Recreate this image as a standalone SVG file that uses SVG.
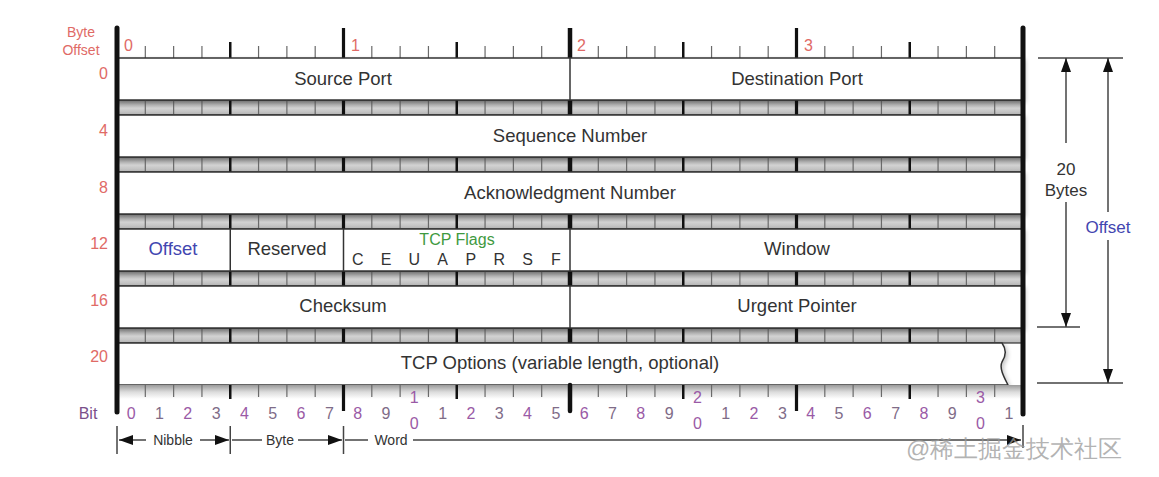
<svg xmlns="http://www.w3.org/2000/svg" width="1159" height="477" viewBox="0 0 1159 477">
<style>
text{font-family:"Liberation Sans",Arial,sans-serif}
.fld{font-size:18.5px;fill:#333;text-anchor:middle}
.off{font-size:16px;fill:#e06a66;text-anchor:end}
.boff{font-size:16px;fill:#e06a66}
.bit{font-size:16px;text-anchor:middle}
.ev{fill:#9a5aa6}
.od{fill:#7f6c88}
.row{fill:#fff;stroke:#333;stroke-width:1.5}
.div{stroke:#333;stroke-width:1.5}
.thin{stroke:#6a6a6a;stroke-width:1.2;fill:none}
.nib{stroke:#111;stroke-width:2.5}
.byt{stroke:#111;stroke-width:3.2}
.mid{stroke:#111;stroke-width:4.5}
.bar{stroke:#111;stroke-width:5;stroke-linecap:round}
.dim{stroke:#444;stroke-width:1.5;fill:none}
.lbl{font-size:14px;fill:#333;text-anchor:middle}
</style>
<defs>
<linearGradient id="sg" x1="0" y1="0" x2="0" y2="1">
<stop offset="0" stop-color="#8a8a8a"/>
<stop offset="0.55" stop-color="#d2d2d2"/>
<stop offset="1" stop-color="#b8b8b8"/>
</linearGradient>
<linearGradient id="bg" x1="0" y1="0" x2="0" y2="1">
<stop offset="0" stop-color="#9a9a9a"/>
<stop offset="0.5" stop-color="#dcdcdc"/>
<stop offset="1" stop-color="#ffffff"/>
</linearGradient>
<filter id="sh" x="-5%" y="-20%" width="110%" height="150%">
<feDropShadow dx="2" dy="2" stdDeviation="2" flood-color="#000" flood-opacity="0.22"/>
</filter>
<marker id="ah" viewBox="0 0 14 10" refX="14" refY="5" markerWidth="14" markerHeight="10" markerUnits="userSpaceOnUse" orient="auto-start-reverse">
<path d="M0,0 L14,5 L0,10 Z" fill="#111"/>
</marker>
<g id="strip">
<rect x="117" y="0" width="906" height="15" fill="url(#sg)" stroke="#333" stroke-width="1.2"/>
<path class="thin" d="M145.31,0v15M173.63,0v15M201.94,0v15M258.56,0v15M286.88,0v15M315.19,0v15M371.81,0v15M400.13,0v15M428.44,0v15M485.06,0v15M513.38,0v15M541.69,0v15M598.31,0v15M626.63,0v15M654.94,0v15M711.56,0v15M739.88,0v15M768.19,0v15M824.81,0v15M853.13,0v15M881.44,0v15M938.06,0v15M966.38,0v15M994.69,0v15"/>
<path class="nib" d="M230.25,0v15M456.75,0v15M683.25,0v15M909.75,0v15"/>
<path class="byt" d="M343.5,0v15M796.5,0v15"/>
<path class="mid" d="M570,0v15"/>
</g>
</defs>
<rect width="1159" height="477" fill="#fff"/>

<g id="byte-offset-header">
<text x="81" y="37" font-size="14" fill="#e06a66" text-anchor="middle">Byte</text>
<text x="81" y="55" font-size="14" fill="#e06a66" text-anchor="middle">Offset</text>
<text class="boff" x="124" y="51">0</text>
<text class="boff" x="351" y="51">1</text>
<text class="boff" x="577" y="51">2</text>
<text class="boff" x="804" y="51">3</text>
<path class="thin" d="M145.31,46V58M173.63,46V58M201.94,46V58M258.56,46V58M286.88,46V58M315.19,46V58M371.81,46V58M400.13,46V58M428.44,46V58M485.06,46V58M513.38,46V58M541.69,46V58M598.31,46V58M626.63,46V58M654.94,46V58M711.56,46V58M739.88,46V58M768.19,46V58M824.81,46V58M853.13,46V58M881.44,46V58M938.06,46V58M966.38,46V58M994.69,46V58"/>
<path class="nib" d="M230.25,42V58M456.75,42V58M683.25,42V58M909.75,42V58"/>
<path class="byt" d="M343.5,28V58M796.5,28V58"/>
<path class="mid" d="M570,28V58"/>
</g>

<g id="row-offsets">
<text class="off" x="108" y="79">0</text>
<text class="off" x="108" y="136">4</text>
<text class="off" x="108" y="193">8</text>
<text class="off" x="108" y="249">12</text>
<text class="off" x="108" y="306">16</text>
<text class="off" x="108" y="362">20</text>
</g>

<g id="strips">
<use href="#strip" y="100"/>
<use href="#strip" y="157"/>
<use href="#strip" y="214"/>
<use href="#strip" y="271"/>
<use href="#strip" y="328"/>
</g>

<g id="row0">
<rect class="row" x="117" y="58" width="906" height="42" filter="url(#sh)"/>
<line class="div" x1="570" y1="58" x2="570" y2="100"/>
<text class="fld" x="343" y="85">Source Port</text>
<text class="fld" x="797" y="85">Destination Port</text>
</g>
<g id="row1">
<rect class="row" x="117" y="115" width="906" height="42" filter="url(#sh)"/>
<text class="fld" x="570" y="142">Sequence Number</text>
</g>
<g id="row2">
<rect class="row" x="117" y="172" width="906" height="42" filter="url(#sh)"/>
<text class="fld" x="570" y="199">Acknowledgment Number</text>
</g>
<g id="row3">
<rect class="row" x="117" y="229" width="906" height="42" filter="url(#sh)"/>
<line class="div" x1="230.25" y1="229" x2="230.25" y2="271"/>
<line class="div" x1="343.5" y1="229" x2="343.5" y2="271"/>
<line class="div" x1="570" y1="229" x2="570" y2="271"/>
<text class="fld" x="173" y="255" style="fill:#4246b0">Offset</text>
<text class="fld" x="287" y="255">Reserved</text>
<text x="457" y="245" font-size="16" fill="#3f9a3f" text-anchor="middle">TCP Flags</text>
<g font-size="16" fill="#333" text-anchor="middle">
<text x="357.66" y="265">C</text>
<text x="385.97" y="265">E</text>
<text x="414.28" y="265">U</text>
<text x="442.59" y="265">A</text>
<text x="470.91" y="265">P</text>
<text x="499.22" y="265">R</text>
<text x="527.53" y="265">S</text>
<text x="555.84" y="265">F</text>
</g>
<text class="fld" x="797" y="255">Window</text>
</g>
<g id="row4">
<rect class="row" x="117" y="286" width="906" height="42" filter="url(#sh)"/>
<line class="div" x1="570" y1="286" x2="570" y2="328"/>
<text class="fld" x="343" y="312">Checksum</text>
<text class="fld" x="797" y="312">Urgent Pointer</text>
</g>
<g id="row5">
<path class="row" d="M117,343 L1002,343 C1007,350 1006,356 1002,362 C999,368 1004,377 1008,385 L117,385 Z" filter="url(#sh)"/>
<text class="fld" x="560" y="369">TCP Options (variable length, optional)</text>
</g>

<g id="bottom-ruler">
<rect x="117" y="385" width="906" height="14" fill="url(#bg)"/>
<path class="thin" d="M145.31,385v12M173.63,385v12M201.94,385v12M258.56,385v12M286.88,385v12M315.19,385v12M371.81,385v12M400.13,385v12M428.44,385v12M485.06,385v12M513.38,385v12M541.69,385v12M598.31,385v12M626.63,385v12M654.94,385v12M711.56,385v12M739.88,385v12M768.19,385v12M824.81,385v12M853.13,385v12M881.44,385v12M938.06,385v12M966.38,385v12M994.69,385v12"/>
<path class="nib" d="M230.25,385v14M456.75,385v14M683.25,385v14M909.75,385v14"/>
<path class="byt" d="M343.5,385v26M796.5,385v26"/>
<path class="mid" stroke-linecap="round" d="M570,385v26"/>
</g>

<g id="frame">
<line class="bar" x1="117" y1="28" x2="117" y2="412"/>
<line class="bar" x1="1023" y1="28" x2="1023" y2="414"/>
</g>

<g id="bit-labels">
<text x="88" y="419" font-size="16" fill="#7a4f8a" text-anchor="middle">Bit</text>
<text class="bit ev" x="131.16" y="419">0</text>
<text class="bit od" x="159.47" y="419">1</text>
<text class="bit ev" x="187.78" y="419">2</text>
<text class="bit od" x="216.09" y="419">3</text>
<text class="bit ev" x="244.41" y="419">4</text>
<text class="bit od" x="272.72" y="419">5</text>
<text class="bit ev" x="301.03" y="419">6</text>
<text class="bit od" x="329.34" y="419">7</text>
<text class="bit ev" x="357.66" y="419">8</text>
<text class="bit od" x="385.97" y="419">9</text>
<text class="bit ev" x="414.28" y="403">1</text>
<text class="bit ev" x="414.28" y="429">0</text>
<text class="bit od" x="442.59" y="419">1</text>
<text class="bit ev" x="470.91" y="419">2</text>
<text class="bit od" x="499.22" y="419">3</text>
<text class="bit ev" x="527.53" y="419">4</text>
<text class="bit od" x="555.84" y="419">5</text>
<text class="bit ev" x="584.16" y="419">6</text>
<text class="bit od" x="612.47" y="419">7</text>
<text class="bit ev" x="640.78" y="419">8</text>
<text class="bit od" x="669.09" y="419">9</text>
<text class="bit ev" x="697.41" y="403">2</text>
<text class="bit ev" x="697.41" y="429">0</text>
<text class="bit od" x="725.72" y="419">1</text>
<text class="bit ev" x="754.03" y="419">2</text>
<text class="bit od" x="782.34" y="419">3</text>
<text class="bit ev" x="810.66" y="419">4</text>
<text class="bit od" x="838.97" y="419">5</text>
<text class="bit ev" x="867.28" y="419">6</text>
<text class="bit od" x="895.59" y="419">7</text>
<text class="bit ev" x="923.91" y="419">8</text>
<text class="bit od" x="952.22" y="419">9</text>
<text class="bit ev" x="980.53" y="403">3</text>
<text class="bit ev" x="980.53" y="429">0</text>
<text class="bit od" x="1008.84" y="419">1</text>
</g>

<g id="scale-labels">
<text class="lbl" x="173" y="445">Nibble</text>
<text class="lbl" x="280" y="445">Byte</text>
<text class="lbl" x="391" y="445">Word</text>
</g>

<g id="connectors">
<path class="dim" d="M117,426V454M230.25,426V454M343.5,426V454M1023,425V448"/>
<line class="dim" x1="146" y1="440" x2="119" y2="440" marker-end="url(#ah)"/>
<line class="dim" x1="200" y1="440" x2="229" y2="440" marker-end="url(#ah)"/>
<line class="dim" x1="232" y1="440" x2="262" y2="440"/>
<line class="dim" x1="298" y1="440" x2="342" y2="440" marker-end="url(#ah)"/>
<line class="dim" x1="345" y1="440" x2="368" y2="440"/>
<line class="dim" x1="413" y1="440" x2="1021" y2="440" marker-end="url(#ah)"/>
<path class="dim" d="M1038,58H1123M1037,327H1080M1037,383H1123"/>
<line class="dim" x1="1066" y1="143" x2="1066" y2="58" marker-end="url(#ah)"/>
<line class="dim" x1="1066" y1="202" x2="1066" y2="327" marker-end="url(#ah)"/>
<line class="dim" x1="1108" y1="212" x2="1108" y2="58" marker-end="url(#ah)"/>
<line class="dim" x1="1108" y1="240" x2="1108" y2="383" marker-end="url(#ah)"/>
</g>

<g id="dimension-labels">
<text x="1066" y="175" font-size="17" fill="#333" text-anchor="middle">20</text>
<text x="1066" y="196" font-size="17" fill="#333" text-anchor="middle">Bytes</text>
<text x="1108" y="233" font-size="17" fill="#4246b0" text-anchor="middle">Offset</text>
</g>

<text x="906" y="457" font-size="24" fill="#9a9a9a" fill-opacity="0.75" font-family="'Liberation Sans','Noto Sans CJK SC',sans-serif">@稀土掘金技术社区</text>
</svg>
